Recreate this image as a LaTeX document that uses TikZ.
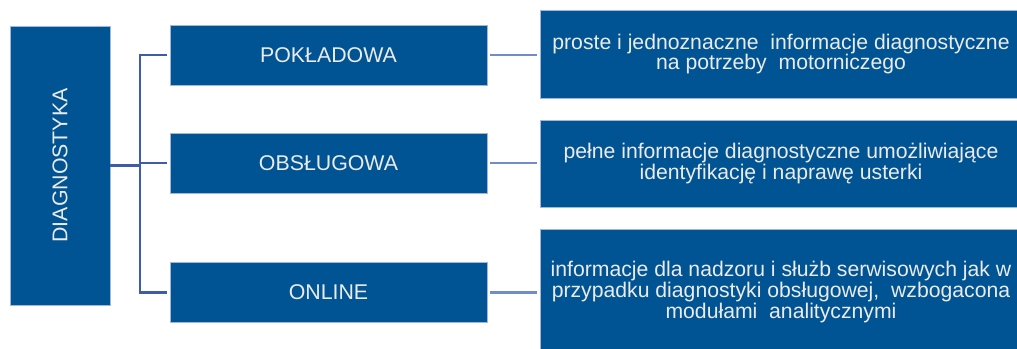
\documentclass[tikz,border=0pt]{standalone}
\usepackage{fontspec}
\setmainfont{Liberation Sans}
\usetikzlibrary{positioning}
\definecolor{boxblue}{RGB}{0,84,147}
\definecolor{edgeblue}{RGB}{160,182,218}
\definecolor{linkdark}{RGB}{62,92,168}
\definecolor{linklight}{RGB}{112,140,204}

\tikzset{
  box/.style={fill=boxblue, draw=edgeblue, line width=0.5pt,
    text=white!92!black, inner sep=0pt, align=center},
  kindbox/.style={box, minimum width=237.75pt, minimum height=45pt,
    font=\fontsize{16}{18}\selectfont},
  infobox/.style={box, minimum width=361.5pt,
    font=\fontsize{15.9}{15.6}\selectfont},
  link/.style={draw=linkdark, line width=2.2pt},
  linkr/.style={draw=linklight, line width=2.2pt, shorten <=2pt, shorten >=2pt}
}

\begin{document}
\begin{tikzpicture}[x=0.75pt, y=-0.75pt]
  \useasboundingbox (0,0) rectangle (1017,349);
  % root box, text turned upwards
  \node[box, minimum width=75pt, minimum height=209.25pt,
    font=\fontsize{16}{18}\selectfont] (diag) at (60,165.5)
    {\rotatebox{90}{DIAGNOSTYKA}};

  % kinds of diagnostics
  \node[kindbox] (pok) at (328.5,55) {POKŁADOWA};
  \node[kindbox] (obs) at (328.5,163) {OBSŁUGOWA};
  \node[kindbox] (onl) at (328.5,292.5) {ONLINE};

  % descriptions (cut by the right and bottom edge)
  \node[infobox, minimum height=66pt] (pokinfo) at (781,54)
    {proste i jednoznaczne\ \ informacje diagnostyczne\\na potrzeby\ \ motorniczego};
  \node[infobox, minimum height=65.25pt] (obsinfo) at (781,163.5)
    {pełne informacje diagnostyczne umożliwiające\\identyfikację i naprawę usterki};
  \node[infobox, minimum height=94.5pt] (onlinfo) at (781,292)
    {informacje dla nadzoru i służb serwisowych jak w\\przypadku diagnostyki obsługowej,\ \ wzbogacona\\modułami\ \ analitycznymi};

  % tree lines
  \coordinate (fork) at (140,164);
  \draw[link] (diag.east) -- (diag.east -| fork);
  \draw[link, shorten >=2pt] (pok.west) ++(-2.5,0) -| (fork |- onl.west) -- (onl.west);
  \draw[link, shorten >=2pt] (fork |- obs.west) -- (obs.west);
  \foreach \a/\b in {pok/pokinfo, obs/obsinfo, onl/onlinfo}
    \draw[linkr] (\a.east) -- (\a.east -| \b.west);
\end{tikzpicture}
\end{document}
